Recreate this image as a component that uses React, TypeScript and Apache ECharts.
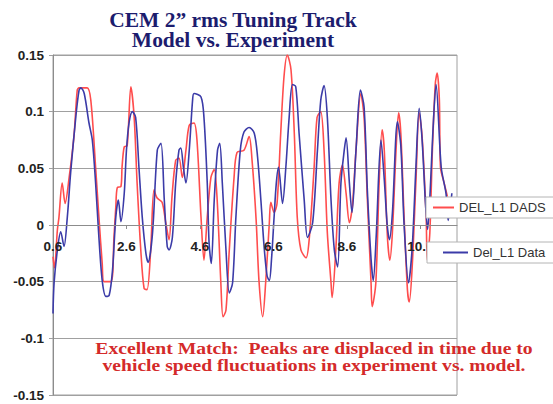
import React, { useEffect, useRef } from 'react';
import * as echarts from 'echarts';

const titleLines = ['CEM 2\u201D rms Tuning Track', 'Model vs. Experiment'];
const noteLines = [
  'Excellent Match:  Peaks are displaced in time due to',
  'vehicle speed fluctuations in experiment vs. model.',
];
const seriesNames = ['DEL_L1 DADS', 'Del_L1 Data'];
const xTickLabels = [0.6, 2.6, 4.6, 6.6, 8.6, 10.6];

const dadsT = [
  0.6, 0.64, 0.72, 0.76, 0.85, 0.93, 1.04, 1.17, 1.26, 1.31, 1.53, 1.63, 1.76, 1.85, 1.94, 1.99,
  2.18, 2.26, 2.31, 2.35, 2.45, 2.48, 2.54, 2.62, 2.72, 2.81, 2.89, 2.99, 3.08, 3.16, 3.26, 3.35,
  3.43, 3.57, 3.67, 3.76, 3.84, 3.94, 4.03, 4.12, 4.22, 4.31, 4.44, 4.52, 4.63, 4.71, 4.8, 4.9,
  4.99, 5.07, 5.17, 5.23, 5.31, 5.4, 5.53, 5.61, 5.8, 5.94, 6.02, 6.13, 6.21, 6.31, 6.39, 6.49,
  6.53, 6.62, 6.7, 6.8, 6.89, 6.98, 7.08, 7.17, 7.25, 7.35, 7.49, 7.58, 7.71, 7.79, 7.89, 7.98,
  8.07, 8.17, 8.2, 8.3, 8.39, 8.48, 8.58, 8.67, 8.75, 8.85, 8.98, 9.07, 9.16, 9.26, 9.29, 9.39,
  9.48, 9.56, 9.62, 9.7, 9.77, 9.84, 9.94, 10.01, 10.07, 10.16, 10.25, 10.3, 10.38, 10.48, 10.57,
  10.65, 10.76, 10.79, 10.86, 10.93, 11.01, 11.06, 11.12, 11.15, 11.25, 11.34,
];
const dadsV = [
  -0.028, -0.038, -0.004, 0.006, 0.037, 0.019, 0.042, 0.078, 0.119, 0.121, 0.121, 0.11, 0.051, 0.007, -0.034, -0.05,
  -0.05, -0.011, 0.016, 0.033, 0.034, 0.051, 0.069, 0.07, 0.122, 0.095, 0.037, -0.022, -0.056, -0.057, -0.022, 0.031,
  0.024, 0.02, 0.002, -0.013, 0.025, 0.057, 0.059, 0.042, 0.066, 0.088, 0.09, 0.075, 0.007, -0.031, 0.007, 0.042,
  0.049, 0.022, -0.051, -0.081, -0.075, -0.022, 0.042, 0.064, 0.066, 0.078, 0.057, 0.005, -0.05, -0.081, -0.051, 0.002,
  0.02, 0.011, 0.019, 0.081, 0.131, 0.15, 0.137, 0.081, 0.007, -0.022, -0.029, -0.011, 0.051, 0.095, 0.1, 0.066,
  -0.007, -0.051, -0.064, -0.022, 0.037, 0.053, 0.028, 0.002, 0.016, 0.066, 0.116, 0.095, 0.022, -0.051, -0.072, -0.051,
  0.037, 0.084, 0.066, -0.007, -0.031, -0.007, 0.066, 0.099, 0.081, 0.007, -0.057, -0.068, -0.037, 0.037, 0.099,
  0.078, 0.007, -0.031, -0.007, 0.066, 0.125, 0.134, 0.11, 0.051, 0.037, 0.025,
];

const dataT = [
  0.6, 0.63, 0.72, 0.81, 0.9, 0.99, 1.08, 1.22, 1.31, 1.36, 1.45, 1.58, 1.67, 1.76, 1.85, 1.94,
  2.04, 2.13, 2.22, 2.31, 2.38, 2.45, 2.54, 2.6, 2.67, 2.76, 2.85, 2.94, 3.03, 3.13, 3.19, 3.31,
  3.44, 3.54, 3.63, 3.71, 3.76, 3.85, 3.94, 4.03, 4.08, 4.15, 4.22, 4.31, 4.4, 4.44, 4.63, 4.71,
  4.8, 4.85, 4.91, 4.99, 5.08, 5.14, 5.21, 5.31, 5.4, 5.49, 5.58, 5.7, 5.8, 5.94, 6.08, 6.17,
  6.26, 6.35, 6.43, 6.49, 6.55, 6.62, 6.68, 6.74, 6.85, 6.94, 7.03, 7.12, 7.21, 7.3, 7.44, 7.53,
  7.67, 7.8, 7.89, 7.98, 8.07, 8.17, 8.26, 8.35, 8.44, 8.53, 8.58, 8.67, 8.74, 8.85, 8.97, 9.07,
  9.16, 9.26, 9.32, 9.4, 9.53, 9.62, 9.7, 9.76, 9.84, 9.98, 10.07, 10.16, 10.28, 10.38, 10.48,
  10.57, 10.65, 10.74, 10.8, 10.87, 10.94, 11.03, 11.17, 11.3, 11.36, 11.46,
];
const dataV = [
  -0.078, -0.051, -0.022, -0.006, -0.019, 0.007, 0.046, 0.095, 0.119, 0.121, 0.116, 0.09, 0.075, 0.037, -0.011, -0.049,
  -0.063, -0.062, -0.04, 0.007, 0.022, 0.003, 0.028, 0.066, 0.09, 0.1, 0.095, 0.051, 0.007, -0.025, -0.033, -0.007,
  0.066, 0.072, 0.022, -0.019, -0.022, -0.011, 0.037, 0.066, 0.068, 0.051, 0.037, 0.066, 0.11, 0.116, 0.113, 0.095,
  0.037, -0.016, -0.034, 0.022, 0.066, 0.072, 0.037, -0.022, -0.06, -0.051, 0.007, 0.066, 0.082, 0.086, 0.081, 0.06,
  0.022, -0.02, -0.045, -0.049, -0.03, 0.007, 0.037, 0.051, 0.019, 0.051, 0.095, 0.124, 0.122, 0.081, 0.022, -0.011,
  0.002, 0.066, 0.11, 0.123, 0.095, 0.022, -0.022, -0.037, 0.037, 0.066, 0.077, 0.037, 0.011, 0.066, 0.119, 0.104,
  0.03, -0.03, -0.049, -0.01, 0.075, 0.04, 0.0, -0.013, 0.01, 0.091, 0.07, 0.0, -0.051, -0.02, 0.05,
  0.103, 0.075, 0.02, -0.004, 0.03, 0.08, 0.124, 0.051, 0.028, 0.004, 0.028,
];

const pairs = (t: number[], v: number[]) => t.map((x, i) => [x, v[i]]);

const serif = '"Liberation Serif", "Times New Roman", serif';
const sans = 'Arial, "Liberation Sans", sans-serif';

export default function App() {
  const ref = useRef<HTMLDivElement>(null);
  useEffect(() => {
    if (!ref.current) return;
    const chart = echarts.init(ref.current, null, { renderer: 'svg' });
    const axisGray = '#8c8c8c';
    const gridTop = 55;
    const gridBottom = 9;
    const plotH = 404 - gridTop - gridBottom;
    const yMin = -0.15;
    const yMax = 0.15;
    // distance from the bottom of the plot up to the value 0
    const zeroOffset = (plotH * (0 - yMin)) / (yMax - yMin);
    const legendBase = {
      z: 6,
      itemHeight: 14,
      backgroundColor: '#ffffff',
      borderColor: '#b4b4b4',
      borderWidth: 1,
      selectedMode: false,
      itemStyle: { opacity: 0 },
      lineStyle: { width: 2 },
      textStyle: { fontFamily: sans, fontSize: 13, color: '#333' },
    };
    chart.setOption({
      animation: false,
      backgroundColor: '#ffffff',
      grid: {
        left: 53,
        top: gridTop,
        right: 96,
        bottom: gridBottom,
        show: true,
        borderColor: '#a0a0a0',
        borderWidth: 1,
        backgroundColor: 'transparent',
        outerBoundsMode: 'none',
      },
      xAxis: {
        type: 'value',
        position: 'bottom',
        offset: -zeroOffset,
        z: 4,
        min: 0.6,
        max: 11.6,
        axisLine: { show: true, onZero: false, lineStyle: { color: axisGray, width: 1 } },
        axisTick: { show: true, customValues: xTickLabels, length: 4, lineStyle: { color: axisGray } },
        axisLabel: {
          customValues: xTickLabels,
          margin: 14,
          fontFamily: sans,
          fontWeight: 'bold',
          fontSize: 13.5,
          color: '#222',
          formatter: (v: number) => String(v),
        },
        splitLine: { show: false },
      },
      yAxis: {
        type: 'value',
        min: yMin,
        max: yMax,
        interval: 0.05,
        axisLine: { show: true, lineStyle: { color: axisGray, width: 1 } },
        axisTick: { show: true, length: 4, lineStyle: { color: '#a0a0a0' } },
        axisLabel: {
          margin: 9,
          fontFamily: sans,
          fontWeight: 'bold',
          fontSize: 13.5,
          color: '#222',
          formatter: (v: number) => String(+v.toFixed(2)),
        },
        splitLine: { show: true, lineStyle: { color: '#a0a0a0', width: 1 } },
      },
      legend: [
        {
          ...legendBase,
          data: [seriesNames[0]],
          left: 426,
          top: 197,
          itemWidth: 21,
          padding: [4, 8, 4, 6],
        },
        {
          ...legendBase,
          data: [seriesNames[1]],
          left: 427,
          top: 242,
          itemWidth: 25,
          padding: [4, 12, 4, 15],
        },
      ],
      series: [
        {
          name: seriesNames[0],
          type: 'line',
          data: pairs(dadsT, dadsV),
          symbol: 'none',
          smooth: 0.3,
          lineStyle: { color: '#ff4d4d', width: 1.6 },
          itemStyle: { color: '#ff4d4d' },
          z: 2,
        },
        {
          name: seriesNames[1],
          type: 'line',
          data: pairs(dataT, dataV),
          symbol: 'none',
          smooth: 0.3,
          lineStyle: { color: '#3b3ba8', width: 1.6 },
          itemStyle: { color: '#3b3ba8' },
          z: 3,
        },
      ],
      graphic: [
        ...titleLines.map((line, i) => ({
          type: 'text',
          z: 10,
          x: 233,
          y: 20 + i * 20.5,
          scaleX: 1.075,
          style: {
            text: line,
            x: 0,
            y: 0,
            align: 'center',
            textAlign: 'center',
            verticalAlign: 'middle',
            textVerticalAlign: 'middle',
            fontFamily: serif,
            fontWeight: 'bold',
            fontSize: 20,
            fill: '#1c1c6e',
          },
        })),
        ...noteLines.map((line, i) => ({
          type: 'text',
          z: 10,
          x: 314,
          y: 349 + i * 16.5,
          scaleX: 1.19,
          style: {
            text: line,
            x: 0,
            y: 0,
            align: 'center',
            textAlign: 'center',
            verticalAlign: 'middle',
            textVerticalAlign: 'middle',
            fontFamily: serif,
            fontWeight: 'bold',
            fontSize: 16.5,
            fill: '#d42a2a',
          },
        })),
      ],
    });
    return () => chart.dispose();
  }, []);
  return (
    <div
      ref={ref}
      style={{ position: 'absolute', left: 0, top: 0, width: 553, height: 404, background: '#fff' }}
    />
  );
}
